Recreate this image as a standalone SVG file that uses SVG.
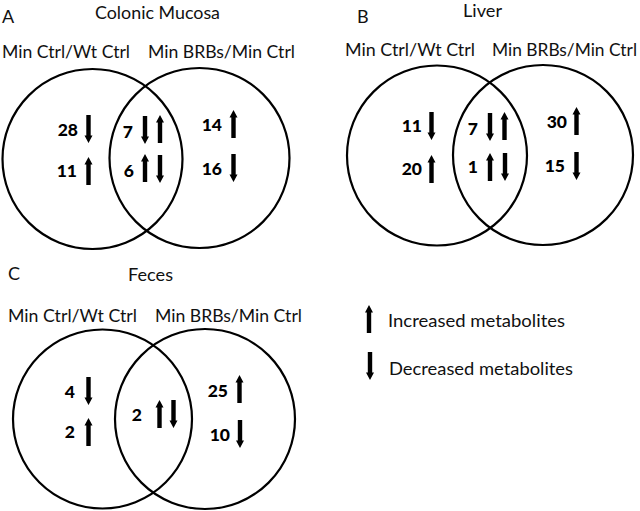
<svg xmlns="http://www.w3.org/2000/svg" xmlns:xlink="http://www.w3.org/1999/xlink" width="640" height="511" viewBox="0 0 640 511">
<style>
.c{fill:none;stroke:#000;stroke-width:2.2}
.t{font-family:Lato,"Open Sans","Liberation Sans",sans-serif;font-size:18px;fill:#111}
.n{font-family:Lato,"Open Sans","Liberation Sans",sans-serif;font-size:17.5px;font-weight:900;fill:#000;text-anchor:end}
</style>
<defs>
<path id="up" d="M0,0 L4,7.5 L2.2,7.5 L2.2,28 L-2.2,28 L-2.2,7.5 L-4,7.5 Z" fill="#000"/>
<path id="dn" d="M0,28 L4,20.5 L2.2,20.5 L2.2,0 L-2.2,0 L-2.2,20.5 L-4,20.5 Z" fill="#000"/>
</defs>
<rect width="640" height="511" fill="#fff"/>

<g id="panelA">
<text class="t" x="2" y="23">A</text>
<text class="t" x="95" y="19" textLength="125" lengthAdjust="spacingAndGlyphs">Colonic Mucosa</text>
<g id="A-left">
<circle class="c" cx="92.5" cy="159" r="90"/>
<text class="t" x="2" y="58" textLength="128" lengthAdjust="spacingAndGlyphs">Min Ctrl/Wt Ctrl</text>
<text class="n" x="78" y="136">28</text><use xlink:href="#dn" x="88.5" y="115"/>
<text class="n" x="77" y="177">11</text><use xlink:href="#up" x="88.5" y="157"/>
</g>
<g id="A-right">
<circle class="c" cx="199.5" cy="158" r="90"/>
<text class="t" x="148" y="58" textLength="147" lengthAdjust="spacingAndGlyphs">Min BRBs/Min Ctrl</text>
<text class="n" x="222" y="131">14</text><use xlink:href="#up" x="233.5" y="110"/>
<text class="n" x="222" y="175">16</text><use xlink:href="#dn" x="233.5" y="154"/>
</g>
<g id="A-overlap">
<text class="n" x="133" y="138">7</text><use xlink:href="#dn" x="145" y="116"/><use xlink:href="#up" x="160" y="115"/>
<text class="n" x="134" y="177">6</text><use xlink:href="#up" x="145" y="154"/><use xlink:href="#dn" x="160" y="155"/>
</g>
</g>

<g id="panelB">
<text class="t" x="357" y="23">B</text>
<text class="t" x="463" y="17" textLength="39" lengthAdjust="spacingAndGlyphs">Liver</text>
<g id="B-left">
<circle class="c" cx="437" cy="155.5" r="90"/>
<text class="t" x="345" y="56" textLength="130" lengthAdjust="spacingAndGlyphs">Min Ctrl/Wt Ctrl</text>
<text class="n" x="422" y="132">11</text><use xlink:href="#dn" x="431.5" y="112"/>
<text class="n" x="422" y="175">20</text><use xlink:href="#up" x="431.5" y="155"/>
</g>
<g id="B-right">
<circle class="c" cx="543" cy="155" r="90"/>
<text class="t" x="492" y="56" textLength="145" lengthAdjust="spacingAndGlyphs">Min BRBs/Min Ctrl</text>
<text class="n" x="567" y="128">30</text><use xlink:href="#up" x="576.5" y="107"/>
<text class="n" x="565" y="172">15</text><use xlink:href="#dn" x="576.5" y="152"/>
</g>
<g id="B-overlap">
<text class="n" x="478" y="135">7</text><use xlink:href="#dn" x="490" y="113"/><use xlink:href="#up" x="504.5" y="112"/>
<text class="n" x="478" y="173">1</text><use xlink:href="#up" x="490" y="153"/><use xlink:href="#dn" x="505" y="153"/>
</g>
</g>

<g id="panelC">
<text class="t" x="8" y="280">C</text>
<text class="t" x="128" y="281" textLength="45" lengthAdjust="spacingAndGlyphs">Feces</text>
<g id="C-left">
<circle class="c" cx="102.5" cy="419" r="89.5"/>
<text class="t" x="8" y="322" textLength="129" lengthAdjust="spacingAndGlyphs">Min Ctrl/Wt Ctrl</text>
<text class="n" x="75" y="398">4</text><use xlink:href="#dn" x="88.5" y="377"/>
<text class="n" x="75" y="438">2</text><use xlink:href="#up" x="88.5" y="418"/>
</g>
<g id="C-right">
<circle class="c" cx="205" cy="419" r="90"/>
<text class="t" x="155" y="322" textLength="147" lengthAdjust="spacingAndGlyphs">Min BRBs/Min Ctrl</text>
<text class="n" x="228" y="397">25</text><use xlink:href="#up" x="239.5" y="375"/>
<text class="n" x="230" y="441">10</text><use xlink:href="#dn" x="240" y="420"/>
</g>
<g id="C-overlap">
<text class="n" x="142" y="421">2</text><use xlink:href="#up" x="159.5" y="400"/><use xlink:href="#dn" x="173.5" y="400"/>
</g>
</g>

<g id="legend">
<use xlink:href="#up" x="369" y="305"/>
<text class="t" x="388" y="327" textLength="177" lengthAdjust="spacingAndGlyphs">Increased metabolites</text>
<use xlink:href="#dn" x="370" y="352"/>
<text class="t" x="389" y="375" textLength="184" lengthAdjust="spacingAndGlyphs">Decreased metabolites</text>
</g>
<g id="connectors"/>
</svg>
